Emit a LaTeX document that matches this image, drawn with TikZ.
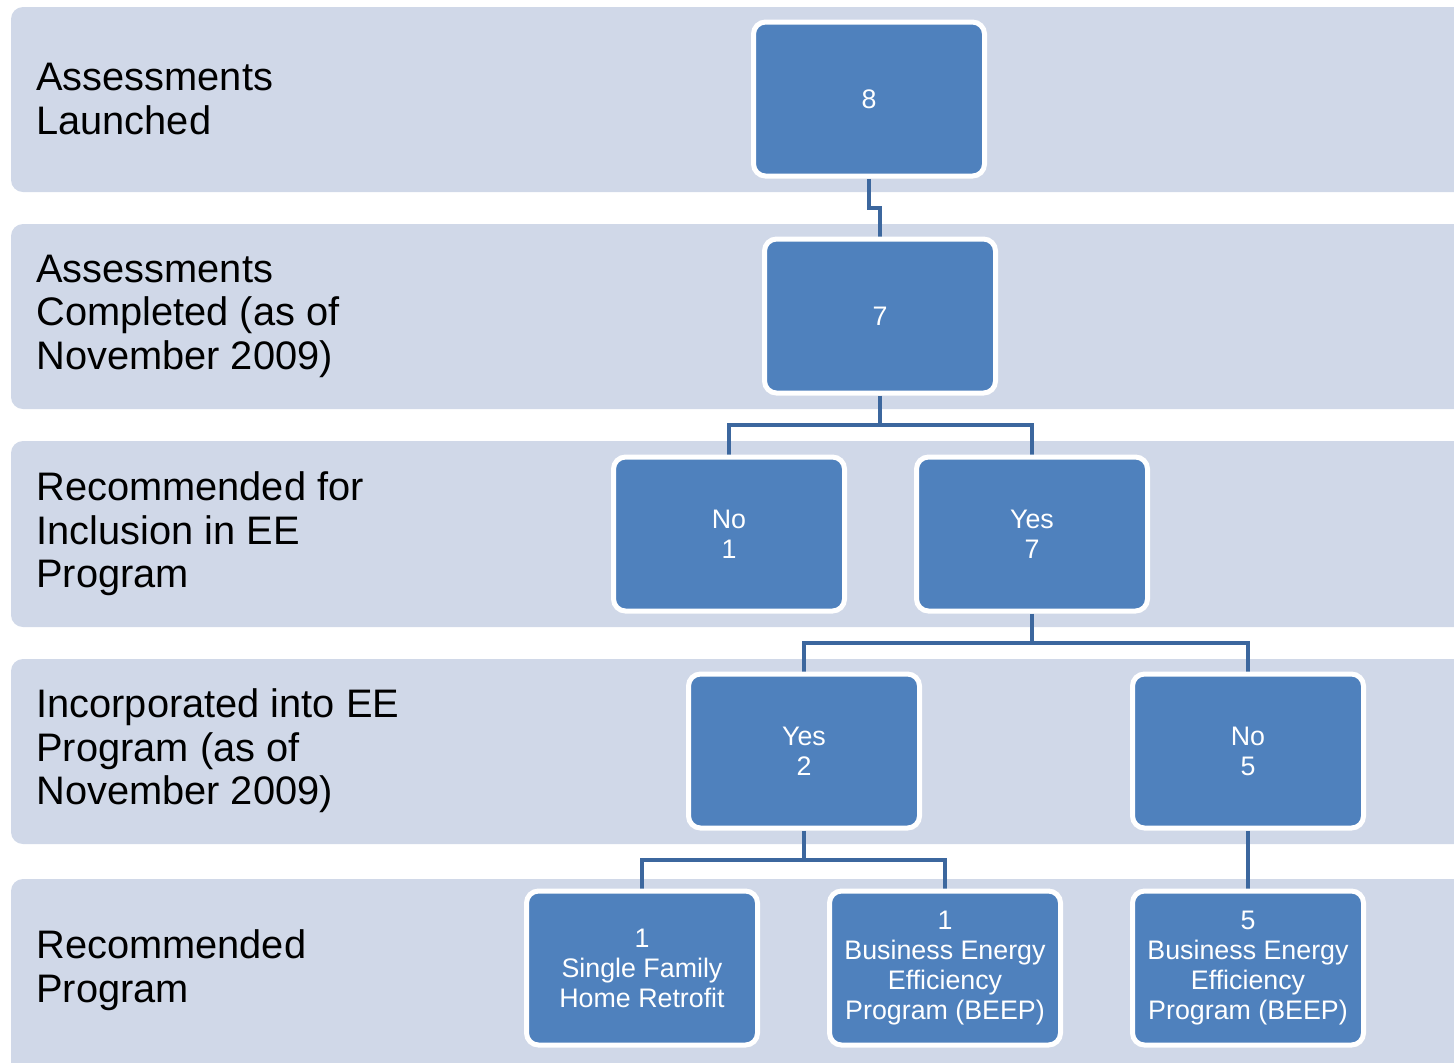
\documentclass[tikz,border=0pt]{standalone}
\usepackage{fontspec}
\setmainfont{Liberation Sans}
\usetikzlibrary{calc}
\definecolor{bandfill}{HTML}{D0D8E8}
\definecolor{boxfill}{HTML}{4F81BD}
\definecolor{linkcol}{RGB}{60,103,158}
\pgfdeclarelayer{bands}
\pgfdeclarelayer{links}
\pgfsetlayers{bands,links,main}
\tikzset{
  band/.style={fill=bandfill, rounded corners=6pt},
  rowlabel/.style={anchor=west, inner sep=0pt, align=left, text=black,
    font=\fontsize{19.9}{21.75}\selectfont},
  stepbox/.style={draw=white, line width=2.5pt, fill=boxfill, rounded corners=6pt,
    minimum width=115.5pt, minimum height=77pt, inner sep=2pt, align=center,
    text=white, font=\fontsize{13.4}{15}\selectfont},
  link/.style={draw=linkcol, line width=2pt}
}
\begin{document}
\begin{tikzpicture}[x=0.5pt, y=-0.5pt]
  \useasboundingbox (0,0) rectangle (1454,1062);
  \clip (0,0) rectangle (1454,1062);

  % horizontal stage bands
  \begin{pgfonlayer}{bands}
    \fill[band] (11,7)   rectangle (1490,192);
    \fill[band] (11,224) rectangle (1490,409);
    \fill[band] (11,441) rectangle (1490,627);
    \fill[band] (11,659) rectangle (1490,844);
    \fill[band] (11,879) rectangle (1490,1085);
  \end{pgfonlayer}

  % stage titles
  \node[rowlabel] (l1) at (36,99)  {Assessments\\Launched};
  \node[rowlabel] (l2) at (36,316) {Assessments\\Completed (as of\\November 2009)};
  \node[rowlabel] (l3) at (36,534) {Recommended for\\Inclusion in EE\\Program};
  \node[rowlabel] (l4) at (36,751) {Incorporated into EE\\Program (as of\\November 2009)};
  \node[rowlabel] (l5) at (36,970) {Recommended\\Program};

  % count boxes
  \node[stepbox] (b8)   at (869,99)   {8};
  \node[stepbox] (b7)   at (880,316)  {7};
  \node[stepbox] (no1)  at (729,534)  {No\\1};
  \node[stepbox] (yes7) at (1032,534) {Yes\\7};
  \node[stepbox] (yes2) at (804,751)  {Yes\\2};
  \node[stepbox] (no5)  at (1248,751) {No\\5};
  \node[stepbox] (sfhr) at (642,968)  {1\\Single Family\\Home Retrofit};
  \node[stepbox] (bp1)  at (945,968)  {1\\Business Energy\\Efficiency\\Program (BEEP)};
  \node[stepbox] (bp5)  at (1248,968) {5\\Business Energy\\Efficiency\\Program (BEEP)};

  % elbow connectors
  \begin{pgfonlayer}{links}
    \coordinate (m1) at ($(b8.south)!0.5!(b7.north)$);
    \draw[link] (b8.south) -- (b8.south |- m1) -| (b7.north);

    \coordinate (m2) at ($(b7.south)!0.5!(no1.north)$);
    \draw[link] (b7.south) -- (b7.south |- m2) -| (no1.north);
    \draw[link] (b7.south) -- (b7.south |- m2) -| (yes7.north);

    \coordinate (m3) at ($(yes7.south)!0.5!(yes2.north)$);
    \draw[link] (yes7.south) -- (yes7.south |- m3) -| (yes2.north);
    \draw[link] (yes7.south) -- (yes7.south |- m3) -| (no5.north);

    \coordinate (m4) at ($(yes2.south)!0.5!(sfhr.north)$);
    \draw[link] (yes2.south) -- (yes2.south |- m4) -| (sfhr.north);
    \draw[link] (yes2.south) -- (yes2.south |- m4) -| (bp1.north);

    \draw[link] (no5.south) -- (bp5.north);
  \end{pgfonlayer}
\end{tikzpicture}
\end{document}
